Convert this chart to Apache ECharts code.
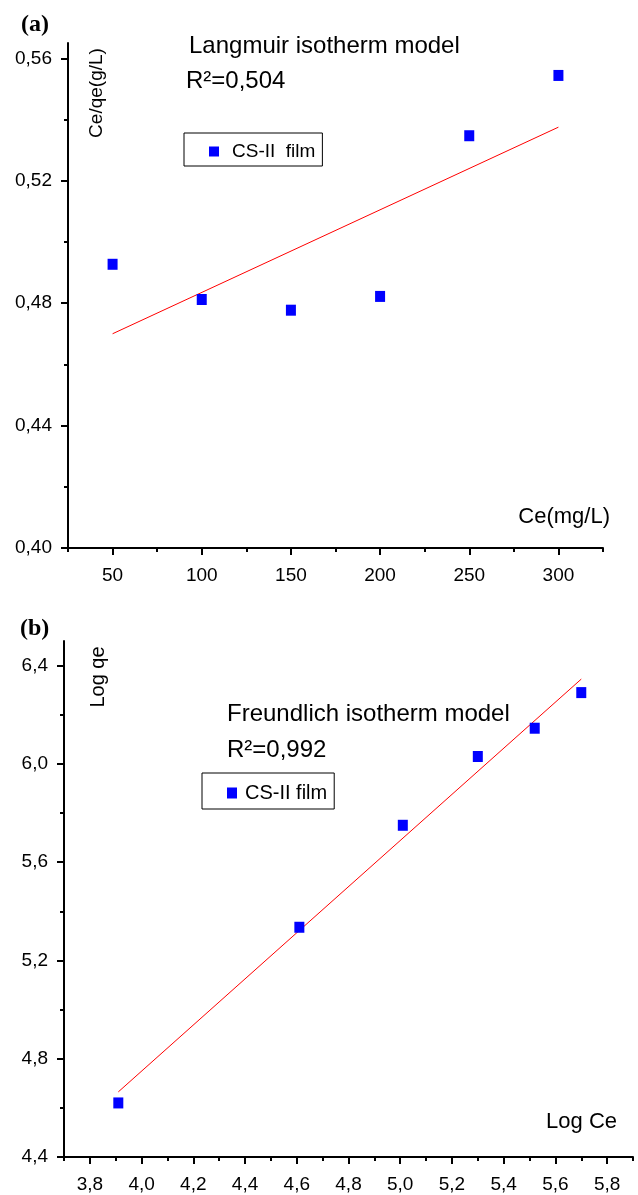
<!DOCTYPE html>
<html><head><meta charset="utf-8">
<script src="https://cdn.jsdelivr.net/npm/echarts@6/dist/echarts.min.js"></script>
<style>html,body{margin:0;padding:0;background:#fff}#c{width:638px;height:1195px}</style>
</head><body><div id="c"></div>
<script>
// ---- data (a) Langmuir ----
const ceValues   = [50, 100, 150, 200, 250, 300];
const ceQeValues = [0.4927, 0.4812, 0.4777, 0.4822, 0.5347, 0.5544];
const langFitX   = [50, 300];
const langFitY   = [0.4700, 0.5375];
// ---- data (b) Freundlich ----
const logCe  = [3.91, 4.61, 5.01, 5.30, 5.52, 5.70];
const logQe  = [4.62, 5.335, 5.75, 6.03, 6.145, 6.29];
const freFitX = [3.91, 5.70];
const freFitY = [4.665, 6.345];
// ---- tick values ----
const topXTicks = [50, 100, 150, 200, 250, 300];
const topXMinor = [25, 75, 125, 175, 225, 275, 325];
const topYTicks = [0.40, 0.44, 0.48, 0.52, 0.56];
const topYMinor = [0.42, 0.46, 0.50, 0.54];
const botXTicks = [3.8, 4.0, 4.2, 4.4, 4.6, 4.8, 5.0, 5.2, 5.4, 5.6, 5.8];
const botXMinor = [3.7, 3.9, 4.1, 4.3, 4.5, 4.7, 4.9, 5.1, 5.3, 5.5, 5.7, 5.9];
const botYTicks = [4.4, 4.8, 5.2, 5.6, 6.0, 6.4];
const botYMinor = [4.6, 5.0, 5.4, 5.8, 6.2];

const FONT = 'Liberation Sans, Arial, sans-serif';
const comma = d => v => Number(v).toFixed(d).replace('.', ',');
const zip = (a, b) => a.map((v, i) => [v, b[i]]);

function majorAxis(grid, min, max, ticks, fmt, isX) {
  return {
    type: 'value', gridIndex: grid, min: min, max: max,
    position: isX ? 'bottom' : 'left',
    axisLine: {show: true, onZero: false, lineStyle: {color: '#000', width: 2}},
    axisTick: {show: true, customValues: ticks, length: 7, lineStyle: {color: '#000', width: 2}},
    axisLabel: {show: true, customValues: ticks, formatter: fmt, color: '#000',
      fontFamily: FONT, fontSize: 19, margin: isX ? 18 : 16},
    splitLine: {show: false}
  };
}
function minorAxis(grid, min, max, ticks, isX) {
  return {
    type: 'value', gridIndex: grid, min: min, max: max,
    position: isX ? 'bottom' : 'left',
    axisLine: {show: false, onZero: false},
    axisTick: {show: true, customValues: ticks, length: 4, lineStyle: {color: '#000', width: 2}},
    axisLabel: {show: false},
    splitLine: {show: false}
  };
}

const chart = echarts.init(document.getElementById('c'), null, {renderer: 'canvas'});
const txt = (x, y, text, size, extra) => ({
  type: 'text', x: x, y: y,
  style: Object.assign({text: text, fontSize: size, fontFamily: FONT, fill: '#000',
    align: 'left', verticalAlign: 'middle'}, extra || {})
});

chart.setOption({
  backgroundColor: '#fff',
  animation: false,
  grid: [
    {left: 68, top: 43, width: 535, height: 505},
    {left: 64, top: 641, width: 569, height: 516}
  ],
  xAxis: [
    majorAxis(0, 25, 325, topXTicks, comma(0), true),
    minorAxis(0, 25, 325, topXMinor, true),
    majorAxis(1, 3.7, 5.9, botXTicks, comma(1), true),
    minorAxis(1, 3.7, 5.9, botXMinor, true)
  ],
  yAxis: [
    majorAxis(0, 0.40, 0.565, topYTicks, comma(2), false),
    minorAxis(0, 0.40, 0.565, topYMinor, false),
    majorAxis(1, 4.4, 6.5, botYTicks, comma(1), false),
    minorAxis(1, 4.4, 6.5, botYMinor, false)
  ],
  legend: [
    {data: ['CS-II  film'], left: 184, top: 133, orient: 'horizontal',
      padding: [9, 7, 5, 25], borderColor: '#000', borderWidth: 1, borderRadius: 0,
      icon: 'rect', itemWidth: 10, itemHeight: 10, itemStyle: {opacity: 1},
      textStyle: {fontFamily: FONT, fontSize: 19, color: '#000', padding: [0, 0, 0, 8], width: 92}},
    {data: ['CS-II film'], left: 202, top: 773, orient: 'horizontal',
      padding: [10, 7, 6, 25], borderColor: '#000', borderWidth: 1, borderRadius: 0,
      icon: 'rect', itemWidth: 10, itemHeight: 11, itemStyle: {opacity: 1},
      textStyle: {fontFamily: FONT, fontSize: 20, color: '#000', padding: [0, 0, 0, 3], width: 99}}
  ],
  series: [
    {name: 'CS-II  film', type: 'scatter', xAxisIndex: 0, yAxisIndex: 0,
      symbol: 'rect', symbolSize: [10, 11], itemStyle: {color: '#0000ff', opacity: 1},
      data: zip(ceValues, ceQeValues), z: 3},
    {name: 'Langmuir fit', type: 'line', xAxisIndex: 0, yAxisIndex: 0,
      symbol: 'none', lineStyle: {color: '#ff0000', width: 1},
      data: zip(langFitX, langFitY), z: 2},
    {name: 'CS-II film', type: 'scatter', xAxisIndex: 2, yAxisIndex: 2,
      symbol: 'rect', symbolSize: [10, 11], itemStyle: {color: '#0000ff', opacity: 1},
      data: zip(logCe, logQe), z: 3},
    {name: 'Freundlich fit', type: 'line', xAxisIndex: 2, yAxisIndex: 2,
      symbol: 'none', lineStyle: {color: '#ff0000', width: 1},
      data: zip(freFitX, freFitY), z: 2}
  ],
  graphic: [
    txt(21, 25, '(a)', 24, {fontFamily: 'Liberation Serif, Times New Roman, serif', fontWeight: 'bold'}),
    txt(20, 629, '(b)', 24, {fontFamily: 'Liberation Serif, Times New Roman, serif', fontWeight: 'bold'}),
    txt(189, 46, 'Langmuir isotherm model', 24),
    txt(186, 81, 'R²=0,504', 24),
    txt(227, 714, 'Freundlich isotherm model', 24),
    txt(227, 750, 'R²=0,992', 24),
    Object.assign(txt(97, 93, 'Ce/qe(g/L)', 19, {align: 'center'}), {rotation: Math.PI / 2}),
    Object.assign(txt(98, 677, 'Log qe', 20, {align: 'center'}), {rotation: Math.PI / 2}),
    txt(610, 517, 'Ce(mg/L)', 22, {align: 'right'}),
    txt(617, 1122, 'Log Ce', 22, {align: 'right'})
  ]
});
</script>
</body></html>
